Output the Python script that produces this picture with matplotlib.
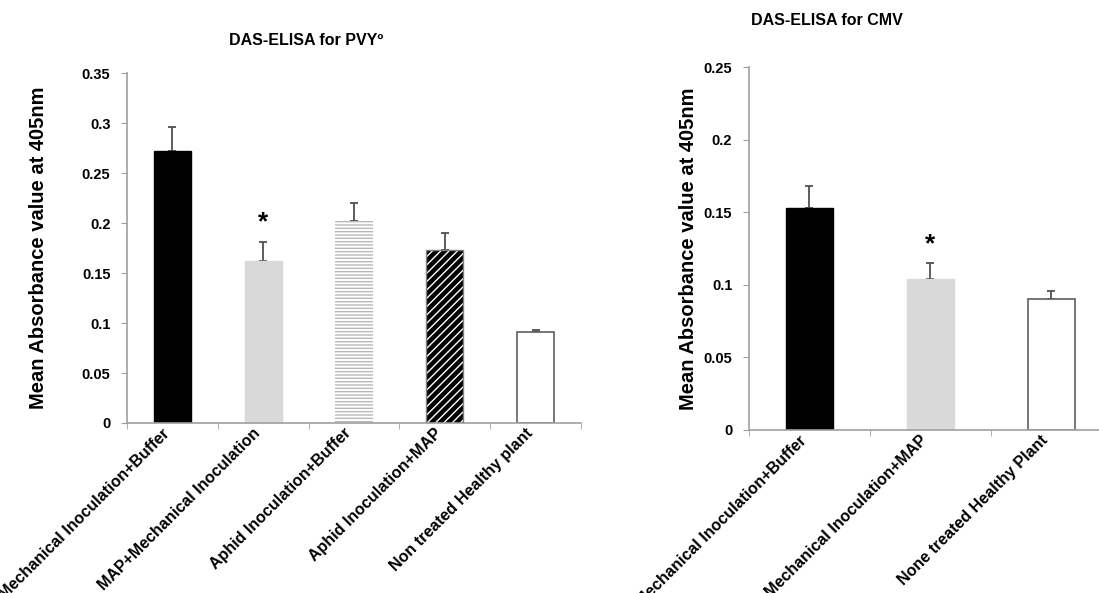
import numpy as np
import matplotlib
matplotlib.use('Agg')
from matplotlib import pyplot as plt

plt.rcParams['font.family'] = ['Liberation Sans', 'DejaVu Sans']
plt.rcParams['font.weight'] = 'bold'

# Data
# --------------------------------------------------------------------------
pvy_labels = ['Mechanical Inoculation+Buffer', 'MAP+Mechanical Inoculation',
              'Aphid Inoculation+Buffer', 'Aphid Inoculation+MAP',
              'Non treated Healthy plant']
pvy_means = [0.272, 0.162, 0.202, 0.173, 0.091]
pvy_errs = [0.024, 0.019, 0.018, 0.017, 0.002]
pvy_star = [False, True, False, False, False]

cmv_labels = ['Mechanical Inoculation+Buffer', 'Mechanical Inoculation+MAP',
              'None treated Healthy Plant']
cmv_means = [0.153, 0.104, 0.090]
cmv_errs = [0.015, 0.011, 0.006]
cmv_star = [False, True, False]
# --------------------------------------------------------------------------

axis_grey = '#a0a0a0'
err_grey = '#505050'


def style_axis(ax, n, ymax, step):
    ax.set_xlim(0, n)
    ax.set_ylim(0, ymax)
    ax.set_yticks(np.arange(0, ymax + step / 2, step))
    ax.set_yticklabels(['0'] + ['%g' % v for v in np.arange(step, ymax + step / 2, step)])
    ax.set_xticks(np.arange(n) + 0.5)
    ax.set_xticks(np.arange(n + 1), minor=True)
    ax.tick_params(axis='x', which='major', length=0, pad=2)
    ax.tick_params(axis='x', which='minor', length=4, color=axis_grey, direction='out')
    ax.tick_params(axis='y', length=4, color=axis_grey, direction='out', labelsize=10.5, pad=8)
    for s in ['top', 'right']:
        ax.spines[s].set_visible(False)
    for s in ['left', 'bottom']:
        ax.spines[s].set_color(axis_grey)
        ax.spines[s].set_linewidth(1.2)
    ax.set_ylabel('Mean Absorbance value at 405nm', fontsize=14.5, fontweight='bold')
    for t in ax.get_yticklabels():
        t.set_fontweight('bold')


def draw_errs(ax, x, means, errs, stars, star_gap):
    ax.errorbar(x, means, yerr=[np.zeros(len(errs)), errs], fmt='none',
                ecolor=err_grey, elinewidth=1.3, capsize=3, capthick=1.3, zorder=1)
    for xi, m, e, s in zip(x, means, errs, stars):
        if s:
            ax.text(xi, m + e + star_gap, '*', ha='center', va='center',
                    fontsize=19, fontweight='bold')


fig = plt.figure(figsize=(10.99, 5.93), dpi=100)

# PVY panel
# --------------------------------------------------------------------------
ax1 = fig.add_axes([0.1156, 0.2867, 0.413, 0.590])
x1 = np.arange(len(pvy_means)) + 0.5
w1 = 0.41
plt.rcParams['hatch.linewidth'] = 1.0
ax1.bar(x1[0], pvy_means[0], w1, color='black', edgecolor='black', zorder=2)
ax1.bar(x1[1], pvy_means[1], w1, color='#d9d9d9', edgecolor='#d9d9d9', zorder=2)
ax1.bar(x1[2], pvy_means[2], w1, color='white', edgecolor='#b8b8b8',
        hatch='-----', linewidth=0, zorder=2)
ax1.bar(x1[3], pvy_means[3], w1, color='black', edgecolor='white',
        hatch='////', linewidth=0, zorder=2)
ax1.bar(x1[3], pvy_means[3], w1, color='none', edgecolor='#808080',
        linewidth=1, zorder=3)
ax1.bar(x1[4], pvy_means[4], w1, color='white', edgecolor='#606060',
        linewidth=1.2, zorder=2)
draw_errs(ax1, x1, pvy_means, pvy_errs, pvy_star, 0.02)
style_axis(ax1, len(pvy_means), 0.35, 0.05)
ax1.set_xticklabels(pvy_labels, rotation=45, ha='right', fontsize=11.5, fontweight='bold')
ax1.yaxis.set_label_coords(-0.175, 0.5)
fig.text(0.279, 0.932, 'DAS-ELISA for PVYº', ha='center', va='center',
         fontsize=11.5, fontweight='bold')

# CMV panel
# --------------------------------------------------------------------------
ax2 = fig.add_axes([0.6815, 0.2749, 0.330, 0.612])
x2 = np.arange(len(cmv_means)) + 0.5
w2 = 0.39
ax2.bar(x2[0], cmv_means[0], w2, color='black', edgecolor='black', zorder=2)
ax2.bar(x2[1], cmv_means[1], w2, color='#d9d9d9', edgecolor='#d9d9d9', zorder=2)
ax2.bar(x2[2], cmv_means[2], w2, color='white', edgecolor='#606060',
        linewidth=1.2, zorder=2)
draw_errs(ax2, x2, cmv_means, cmv_errs, cmv_star, 0.013)
style_axis(ax2, len(cmv_means), 0.25, 0.05)
ax2.set_xticklabels(cmv_labels, rotation=45, ha='right', fontsize=11.5, fontweight='bold')
ax2.yaxis.set_label_coords(-0.14, 0.5)
fig.text(0.752, 0.966, 'DAS-ELISA for CMV', ha='center', va='center',
         fontsize=11.5, fontweight='bold')

fig.savefig('out.png', dpi=100)
